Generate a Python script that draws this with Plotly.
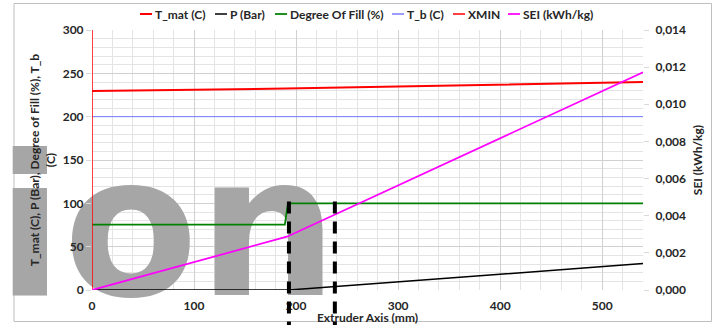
import plotly.graph_objects as go

# ---------------- data ----------------
x_tmat = [0, 190, 540]
tmat = [229.5, 232.5, 240.0]

x_p = [0, 193, 540]
p_bar = [0, 0, 30.5]

x_fill = [0, 189, 192, 540]
fill = [75.5, 75.5, 100, 100]

x_tb = [0, 540]
t_b = [200, 200]

x_xmin = [0, 0]
xmin = [0, 300]

x_sei = [0, 191, 540]
sei = [0.0, 0.00287, 0.01172]

marker_x = [193, 238]     # dashed vertical markers (mm)
marker_top = 102          # top of dashed markers (left-axis units)

watermark_text = "ion"

series_names = ["T_mat (C)", "P (Bar)", "Degree Of Fill (%)", "T_b (C)", "XMIN", "SEI (kWh/kg)"]
series_colors = ["#ff0000", "#000000", "#008000", "#7b7bff", "#ff0000", "#ff00ff"]

x_range = [0, 540]
y_range = [0, 300]
y2_range = [0, 0.014]

# ---------------- layout constants ----------------
W, H = 720, 325
ML, MR, MT, MB = 92, 77, 30, 35
PW = W - ML - MR
PH = H - MT - MB

def px_to_paper_x(px):
    return (px - ML) / PW

def px_to_paper_y(py):
    return (H - MB - py) / PH

def px_to_data_x(px):
    return x_range[0] + (px - ML) / PW * (x_range[1] - x_range[0])

def px_to_data_y(py):
    return y_range[0] + (H - MB - py) / PH * (y_range[1] - y_range[0])

FONT = "Lato"
TXT = "#262626"
BOLD12 = dict(family=FONT, size=12, color=TXT, weight="bold")

fig = go.Figure()

# big grey watermark text, drawn beneath the series (anchor point kept inside
# the axis range so that the unclipped text is not hidden)
WM_SIZE = 196
WM_CENTER_PX = 167
WM_BASELINE_PX = 295
fig.add_trace(go.Scatter(
    x=[px_to_data_x(WM_CENTER_PX)],
    y=[px_to_data_y(WM_BASELINE_PX - 0.25 * WM_SIZE)],
    mode="text", text=[watermark_text],
    textposition="middle center", cliponaxis=False,
    textfont=dict(family="DejaVu Sans", size=WM_SIZE, color="#a6a6a6", weight="bold"),
    showlegend=False, hoverinfo="skip"))

widths = [2, 1.5, 1.75, 1, 1.5, 1.75]
fig.add_trace(go.Scatter(x=x_tmat, y=tmat, mode="lines", name=series_names[0],
                         line=dict(color=series_colors[0], width=widths[0])))
fig.add_trace(go.Scatter(x=x_p, y=p_bar, mode="lines", name=series_names[1],
                         line=dict(color=series_colors[1], width=widths[1])))
fig.add_trace(go.Scatter(x=x_fill, y=fill, mode="lines", name=series_names[2],
                         line=dict(color=series_colors[2], width=widths[2])))
fig.add_trace(go.Scatter(x=x_tb, y=t_b, mode="lines", name=series_names[3],
                         line=dict(color=series_colors[3], width=widths[3])))
fig.add_trace(go.Scatter(x=x_xmin, y=xmin, mode="lines", name=series_names[4],
                         line=dict(color=series_colors[4], width=widths[4])))
fig.add_trace(go.Scatter(x=x_sei, y=sei, mode="lines", name=series_names[5],
                         yaxis="y2", line=dict(color=series_colors[5], width=widths[5])))

shapes = []
annotations = []
top_paper = (marker_top - y_range[0]) / (y_range[1] - y_range[0])
for mx in marker_x:
    shapes.append(dict(type="line", xref="x", yref="paper",
                       x0=mx, x1=mx, y0=top_paper, y1=px_to_paper_y(H + 2),
                       line=dict(color="black", width=4, dash="12px,8px"),
                       layer="above"))
# outer chart border
shapes.append(dict(type="rect", xref="paper", yref="paper",
                   x0=px_to_paper_x(14), x1=px_to_paper_x(711.5),
                   y0=px_to_paper_y(321.5), y1=px_to_paper_y(3.5),
                   line=dict(color="#bfbfbf", width=1), layer="below"))

# compact legend row (short line keys like the original)
LEG_Y = 14
legend_key_px = [140, 215, 275, 392, 453, 508]
for name, col, lw, kx in zip(series_names, series_colors, widths, legend_key_px):
    shapes.append(dict(type="line", xref="paper", yref="paper",
                       x0=px_to_paper_x(kx), x1=px_to_paper_x(kx + 12),
                       y0=px_to_paper_y(LEG_Y), y1=px_to_paper_y(LEG_Y),
                       line=dict(color=col, width=max(lw, 1.5))))
    annotations.append(dict(xref="paper", yref="paper",
                            x=px_to_paper_x(kx + 13), y=px_to_paper_y(LEG_Y),
                            xanchor="left", yanchor="middle", showarrow=False,
                            text=name, font=BOLD12))

fig.update_layout(
    width=W, height=H,
    margin=dict(l=ML, r=MR, t=MT, b=MB, autoexpand=False),
    paper_bgcolor="white", plot_bgcolor="white",
    separators=",.",
    font=dict(family=FONT, size=12, color=TXT),
    shapes=shapes,
    annotations=annotations,
    showlegend=False,
    xaxis=dict(range=x_range, dtick=100, tick0=0, showgrid=True, gridcolor="#d0d0d0",
               gridwidth=1, zeroline=False, showline=False, automargin=False,
               ticks="", ticklabelstandoff=7, tickfont=BOLD12,
               minor=dict(dtick=20, showgrid=True, gridcolor="#e4e4e4"),
               title=dict(text="Extruder Axis (mm)", standoff=0, font=BOLD12)),
    yaxis=dict(range=y_range, dtick=50, showgrid=True, gridcolor="#d0d0d0",
               zeroline=False, showline=False, ticks="outside", ticklen=5,
               automargin=False,
               tickcolor="#d9d9d9", tickfont=BOLD12,
               minor=dict(dtick=10, showgrid=True, gridcolor="#e4e4e4"),
               title=dict(text="T_mat (C), P (Bar), Degree of Fill (%), T_b<br>(C)",
                          standoff=4, font=BOLD12)),
    yaxis2=dict(range=y2_range, dtick=0.002, tickformat=".3f", overlaying="y",
                side="right", showgrid=False, zeroline=False, showline=False,
                ticks="outside", ticklen=5, tickcolor="#d9d9d9", automargin=False,
                ticklabelstandoff=4, tickfont=BOLD12,
                title=dict(text="SEI (kWh/kg)", standoff=8, font=BOLD12)),
)

fig.write_html("out.html")
